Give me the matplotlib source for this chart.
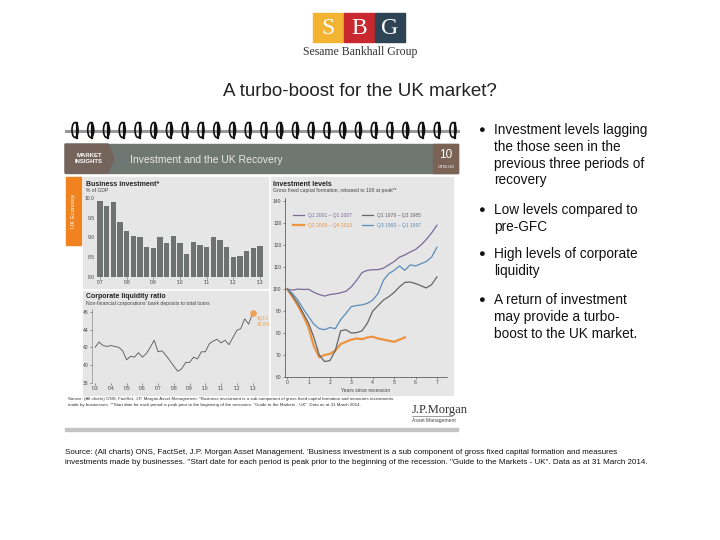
import matplotlib
matplotlib.use('Agg')
import matplotlib.pyplot as plt
from matplotlib.patches import Rectangle, Polygon, Ellipse
import numpy as np

W, H = 720, 540

# Business investment, % of GDP, quarterly Q1 2007 - Q1 2013
bar_values = [9.92, 9.80, 9.91, 9.40, 9.16, 9.04, 9.00, 8.77, 8.74, 9.00,
              8.85, 9.04, 8.85, 8.59, 8.89, 8.81, 8.77, 9.00, 8.94, 8.75,
              8.51, 8.53, 8.66, 8.74, 8.78]
bar_year_labels = ["'07", "'08", "'09", "'10", "'11", "'12", "'13"]

# Corporate liquidity ratio, quarterly 2003 - 2013
liquidity_values = [42.0, 42.6, 42.2, 42.1, 42.2, 42.1, 42.0, 41.6, 40.6, 41.0,
                    40.9, 41.4, 40.9, 41.3, 42.0, 42.8, 41.5, 41.6, 41.1, 40.5,
                    39.9, 39.3, 39.6, 40.3, 40.3, 40.9, 40.7, 41.5, 41.5, 42.4,
                    42.7, 42.9, 42.5, 42.8, 42.3, 43.1, 43.9, 44.1, 45.2, 44.6,
                    45.8]
liquidity_quarters = np.arange(2003.0, 2013.01, 0.25)
liquidity_years = list(range(2003, 2014))
liquidity_year_labels = ["'03", "'04", "'05", "'06", "'07", "'08", "'09", "'10", "'11", "'12", "'13"]

# Investment levels, rebased to 100 at peak, years since recession
years_since = np.arange(0, 7.01, 0.25)
inv_2001 = [100, 99.5, 100, 99.8, 99.9, 98.5, 97.5, 96.8, 97.5, 97.8,
            98.3, 99, 101, 104, 107.5, 108.5, 108.8, 108.8, 109.5, 111,
            112.5, 114.5, 115.5, 116.8, 118, 120, 122.5, 125.5, 129]
inv_1990 = [100, 98, 95, 91, 87.5, 84, 82, 81.5, 82.5, 82,
            86, 89, 92, 92.5, 92.8, 93.5, 95, 98, 104, 107,
            108.5, 110.5, 108.5, 111, 110.5, 111.5, 112.5, 114.5, 119]
inv_1979 = [100, 97, 93.5, 89, 84.5, 78, 70, 67, 67.5, 72,
            81, 81.5, 80, 80.2, 81, 84.5, 90, 92.5, 95, 96.5,
            98.5, 101, 103, 103.2, 102.5, 101.5, 100.5, 102, 105.5]
inv_2008 = [100, 96.5, 92.5, 88, 82.5, 74, 69, 70, 70.5, 72,
            75, 76, 77, 77.5, 77.2, 78, 78.3, 77.5, 77, 76.5,
            76, 77, 78]

bullets = [
    ["Investment levels lagging", "the those seen in the", "previous three periods of", "recovery"],
    ["Low levels compared to", "pre-GFC"],
    ["High levels of corporate", "liquidity"],
    ["A return of investment", "may provide a turbo-", "boost to the UK market."],
]
bullet_tops = [130, 210, 254, 300]

plt.rcParams['font.family'] = ['Liberation Sans', 'DejaVu Sans']

PANEL = '#E5E6E5'
BAR = '#6E7372'
GRAYTXT = '#444444'


def px_ax(fig, x0, y0, x1, y1):
    """Axes placed by pixel box (top-left origin)"""
    return fig.add_axes([x0 / W, 1 - y1 / H, (x1 - x0) / W, (y1 - y0) / H])


def style_small(ax):
    ax.set_facecolor('none')
    ax.tick_params(labelsize=3.6, colors=GRAYTXT, length=1.5, width=0.4, pad=1)
    for s in ax.spines.values():
        s.set_visible(False)


fig = plt.figure(figsize=(7.2, 5.4), dpi=100)
base = fig.add_axes([0, 0, 1, 1])
base.set_xlim(0, W)
base.set_ylim(H, 0)
base.axis('off')

# --- logo
for x0, col, letter in [(313, '#F2B431', 'S'), (344, '#C8282E', 'B'), (375, '#2E4454', 'G')]:
    base.add_patch(Rectangle((x0, 13), 30, 29, color=col))
    base.text(x0 + 15, 28, letter, ha='center', va='center', color='white',
              fontsize=17, family='Liberation Serif')
base.text(360, 52, 'Sesame Bankhall Group', ha='center', va='center', color='#333333',
          fontsize=8.5, family='Liberation Serif')

# --- slide title
base.text(360, 92, 'A turbo-boost for the UK market?', ha='center', va='center',
          color='#222222', fontsize=13.5)

# --- embedded chart page
base.add_patch(Rectangle((65, 118), 393, 312, color='white'))
base.plot([66, 458], [131, 131], color='#9A9A9A', lw=2.2, zorder=2)
for cx in np.linspace(75, 453, 25):
    base.add_patch(Ellipse((cx, 130), 6, 15, fill=False, ec='#111111', lw=1.2, zorder=3))
    base.plot([cx + 1.5, cx + 1.5], [123, 138], color='#111111', lw=1.6, zorder=3)

base.add_patch(Rectangle((65, 144), 393, 29, color='#6F7773'))
base.add_patch(Polygon([(65, 144), (108, 144), (114, 158.5), (108, 173), (65, 173)],
                       closed=True, color='#74645B'))
base.text(89, 158.5, 'MARKET\nINSIGHTS', ha='center', va='center', color='white',
          fontsize=4.3, fontweight='bold', linespacing=1.35)
base.text(130, 160, 'Investment and the UK Recovery', ha='left', va='center',
          color='#E8E8E8', fontsize=7.5)
base.add_patch(Rectangle((433, 144), 25, 29, color='#7A6254'))
base.text(446, 155, '10', ha='center', va='center', color='white', fontsize=8.5)
base.text(446, 167, 'GTM-UK', ha='center', va='center', color='white', fontsize=3.2)

# panels
base.add_patch(Rectangle((66, 177), 15, 68, color='#F08320'))
base.text(73.5, 211, 'UK Economy', rotation=90, ha='center', va='center',
          color='white', fontsize=4.2)
base.add_patch(Rectangle((83, 177), 185, 111, color=PANEL))
base.add_patch(Rectangle((83, 291), 185, 104, color=PANEL))
base.add_patch(Rectangle((271, 177), 182, 218, color=PANEL))

base.text(86, 184, 'Business investment*', fontsize=5, fontweight='bold', va='center', color='#222222')
base.text(86, 190.5, '% of GDP', fontsize=3.6, va='center', color=GRAYTXT)
base.text(86, 297, 'Corporate liquidity ratio', fontsize=5, fontweight='bold', va='center', color='#222222')
base.text(86, 303.5, "Non-financial corporations' bank deposits to total loans", fontsize=3.6,
          va='center', color=GRAYTXT)
base.text(273, 184, 'Investment levels', fontsize=5, fontweight='bold', va='center', color='#222222')
base.text(273, 190.5, 'Gross fixed capital formation, rebased to 100 at peak**', fontsize=3.6,
          va='center', color=GRAYTXT)

base.text(68, 399, 'Source: (All charts) ONS, FactSet, J.P. Morgan Asset Management. *Business investment is a sub '
          'component of gross fixed capital formation and measures investments', fontsize=3.2,
          va='center', color='#333333')
base.text(68, 405, 'made by businesses. **Start date for each period is peak prior to the beginning of the recession. '
          '"Guide to the Markets - UK". Data as at 31 March 2014.', fontsize=3.2, va='center', color='#333333')
base.text(412, 410, 'J.P.Morgan', fontsize=9, family='Liberation Serif', va='center', color='#333333')
base.plot([412, 452], [416, 416], color='#555555', lw=0.4)
base.text(412, 420.5, 'Asset Management', fontsize=3.6, va='center', color='#444444')
base.add_patch(Rectangle((65, 428), 393, 3, color='#C4C4C4'))

# --- business investment bars
ax1 = px_ax(fig, 96, 196, 264, 277)
style_small(ax1)
ax1.bar(range(len(bar_values)), bar_values, width=0.84, color=BAR)
ax1.set_ylim(8.0, 10.05)
ax1.set_xlim(-0.6, len(bar_values) - 0.4)
ax1.set_yticks([8.0, 8.5, 9.0, 9.5, 10.0])
ax1.set_yticklabels(['8.0', '8.5', '9.0', '9.5', '10.0'])
ax1.set_xticks(range(0, len(bar_values), 4))
ax1.set_xticklabels(bar_year_labels)
ax1.tick_params(axis='y', length=0)

# --- corporate liquidity
ax2 = px_ax(fig, 92, 309, 262, 383)
style_small(ax2)
ax2.plot(liquidity_quarters, liquidity_values, color='#555555', lw=0.6)
ax2.scatter([liquidity_quarters[-1]], [liquidity_values[-1]], s=14, color='#F0A257', zorder=3)
ax2.text(liquidity_quarters[-1] + 0.25, liquidity_values[-1] - 0.9, '4Q13\n45.8%', fontsize=3.4,
         color='#F0A257', va='center', linespacing=1.3)
ax2.set_xlim(2002.8, 2013.6)
ax2.set_ylim(38, 46.3)
ax2.set_yticks([38, 40, 42, 44, 46])
ax2.set_xticks(liquidity_years)
ax2.set_xticklabels(liquidity_year_labels)
ax2.spines['left'].set_visible(True)
ax2.spines['left'].set_linewidth(0.4)
ax2.spines['left'].set_color('#777777')

# --- investment levels
ax3 = px_ax(fig, 285, 198, 447, 377)
style_small(ax3)
l1, = ax3.plot(years_since, inv_2001, color='#7A6A9C', lw=0.9)
l2, = ax3.plot(years_since[:len(inv_2008)], inv_2008, color='#EE933F', lw=1.6)
l3, = ax3.plot(years_since, inv_1979, color='#666666', lw=0.9)
l4, = ax3.plot(years_since, inv_1990, color='#5C8DB9', lw=0.9)
ax3.set_xlim(-0.1, 7.47)
ax3.set_ylim(60, 141.4)
ax3.set_yticks(range(60, 141, 10))
ax3.set_xticks(range(0, 8))
for s in ['left', 'bottom']:
    ax3.spines[s].set_visible(True)
    ax3.spines[s].set_linewidth(0.5)
    ax3.spines[s].set_color('#444444')
ax3.set_xlabel('Years since recession', fontsize=3.6, color=GRAYTXT, labelpad=1.5)
leg = ax3.legend([l1, l2, l3, l4],
                 ['Q1 2001 – Q1 2007', 'Q2 2008 – Q4 2013', 'Q1 1979 – Q3 1985', 'Q3 1990 – Q1 1997'],
                 ncol=2, loc='upper left', bbox_to_anchor=(0.02, 0.94), frameon=False,
                 fontsize=3.6, handlelength=2.2, columnspacing=2.0, labelspacing=0.9)
for txt, line in zip(leg.get_texts(), [l1, l2, l3, l4]):
    txt.set_color(line.get_color())

# --- bullet points
for lines, top in zip(bullets, bullet_tops):
    base.text(481, top, '\u25cf', fontsize=8, ha='center', va='center', color='#111111')
    for i, line in enumerate(lines):
        base.text(494, top + i * 16.8, line, fontsize=9.8, va='center', color='#111111')

# --- slide source
base.text(65, 452, "Source: (All charts) ONS, FactSet, J.P. Morgan Asset Management. 'Business investment is a sub "
          "component of gross fixed capital formation and measures", fontsize=5.75, va='center', color='#111111')
base.text(65, 462, "investments made by businesses. ''Start date for each period is peak prior to the beginning of the "
          "recession. \"Guide to the Markets - UK\". Data as at 31 March 2014.", fontsize=5.75, va='center',
          color='#111111')

fig.savefig('out.png', dpi=100)
